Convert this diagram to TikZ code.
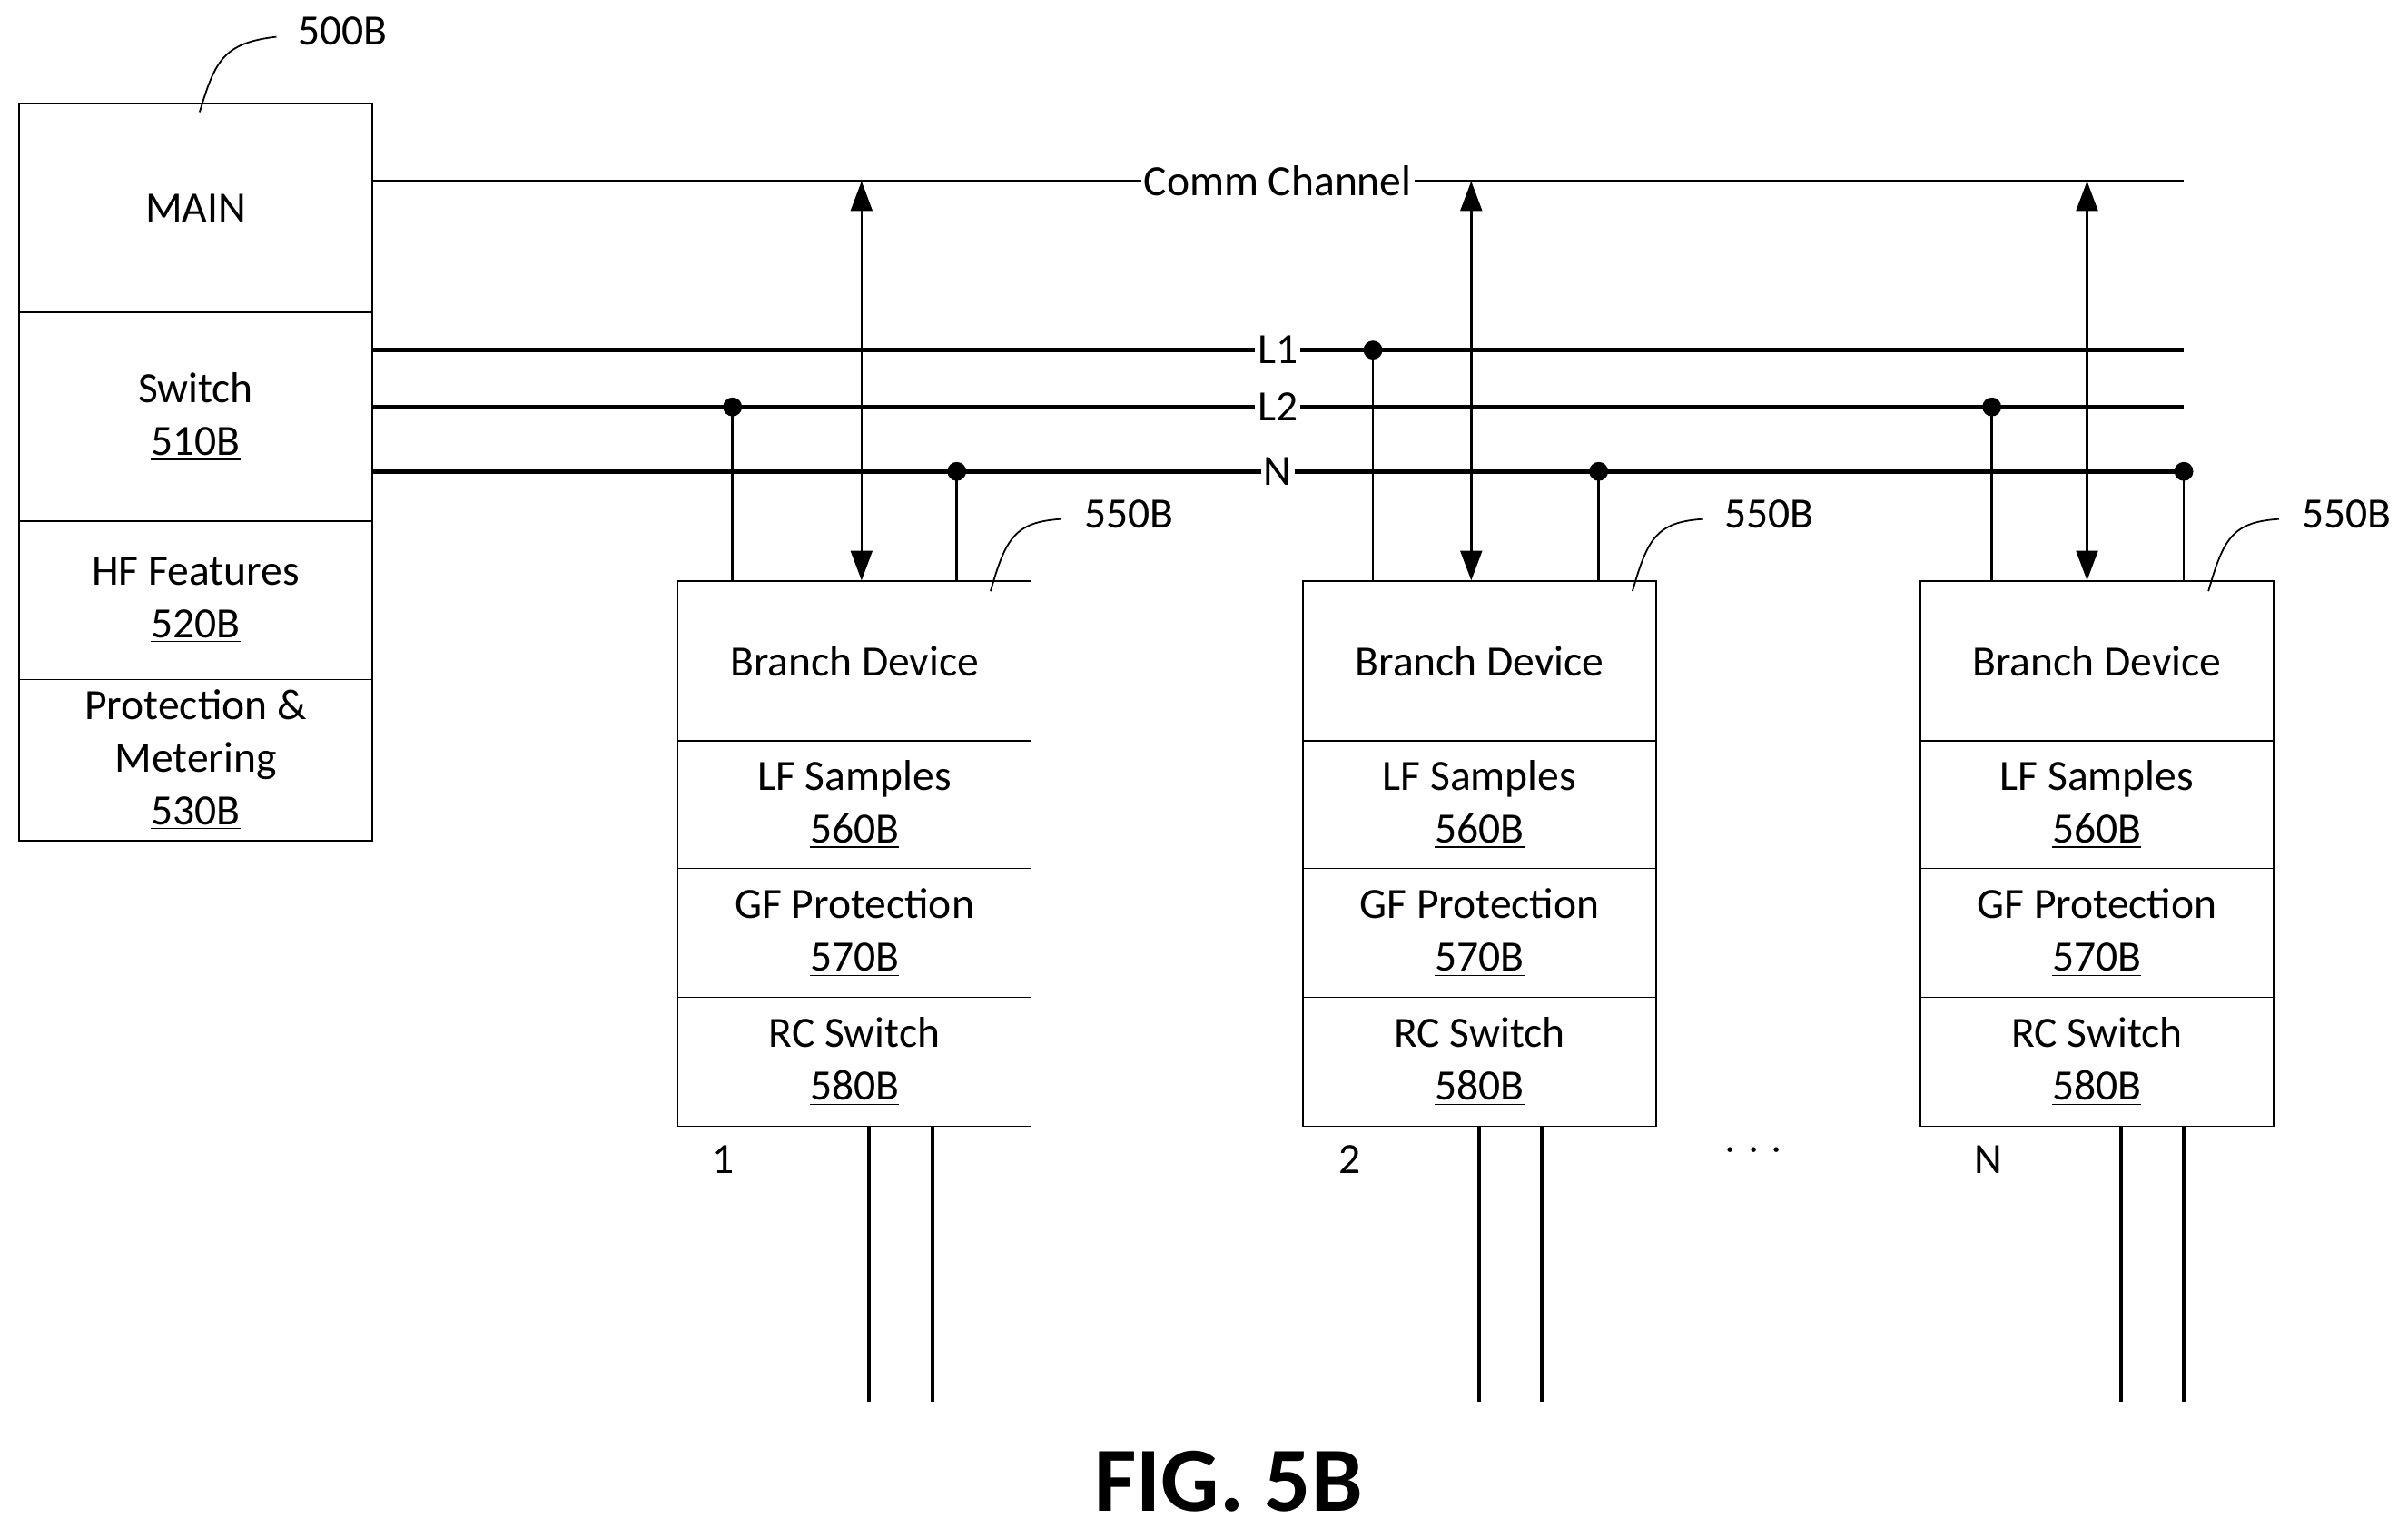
\documentclass[tikz,border=0pt]{standalone}
\usepackage{fontspec}
\setmainfont{Carlito}
\usetikzlibrary{arrows.meta, positioning}

\begin{document}
\begin{tikzpicture}[
    x=0.02cm, y=-0.02cm,
    font=\fontsize{16}{19.5}\selectfont,
    line width=0.9pt,
    cell/.style={draw, line width=0.5pt, minimum width=4.6cm, inner sep=0pt, align=center, anchor=north west},
    bus/.style={line width=1.8pt},
    tap/.style={circle, fill, inner sep=0pt, minimum size=7pt},
    lbl/.style={fill=white, inner sep=1pt}
]
\useasboundingbox (0,0) rectangle (1568,1001);

% main panel
\node[cell, minimum height=2.72cm] (main) at (12,67) {MAIN};
\node[cell, minimum height=2.72cm] (sw) at (12,203) {Switch\\\underline{510B}};
\node[cell, minimum height=2.06cm] (hf) at (12,339) {HF Features\\\underline{520B}};
\node[cell, minimum height=2.1cm] (pm) at (12,442) {Protection \&\\Metering\\\underline{530B}};
\node (ref500) at (223,20) {500B};
\draw[line width=0.6pt] (130,73) .. controls (140,40) and (145,28) .. (180,24);

% buses
\coordinate (cc) at (1422,118);
\coordinate (l1) at (1422,228);
\coordinate (l2) at (1422,265);
\coordinate (nn) at (1422,307);
\draw (main.east |- cc) -- (cc);
\draw[bus] (sw.east |- l1) -- (l1);
\draw[bus] (sw.east |- l2) -- (l2);
\draw[bus] (sw.east |- nn) -- (nn);
\node[lbl] at (832,118) {Comm Channel};
\node[lbl] at (832,228) {L1};
\node[lbl] at (832,265) {L2};
\node[lbl] at (832,307) {N};

% branch devices
\foreach \i/\x/\n/\nx/\rx/\cx/\ph/\a/\b/\c/\oa/\ob in {1/441/1/471/735/645/l2/477/561/623/566/607,
                                          2/848/2/879/1152/1063/l1/894/958/1041/963/1004,
                                          3/1250/N/1295/1528/1438/l2/1297/1359/1422/1381/1422} {
    \node[cell, minimum height=2.08cm] (bd\i) at (\x,378) {Branch Device};
    \node[cell, minimum height=1.66cm] (lf\i) at (\x,482) {LF Samples\\\underline{560B}};
    \node[cell, minimum height=1.68cm] (gf\i) at (\x,565) {GF Protection\\\underline{570B}};
    \node[cell, minimum height=1.68cm] (rc\i) at (\x,649) {RC Switch\\\underline{580B}};
    \node at (\nx,755) {\n};
    \node at (\rx,335) {550B};
    \draw[line width=0.6pt] (\cx,385) .. controls (\cx+10,350) and (\cx+16,340) .. (\cx+46,338);
    \draw (\a,378) -- (\a,0 |- \ph) node[tap] {};
    \draw (\c,378) -- (\c,0 |- nn) node[tap] {};
    \draw[{Triangle[length=11pt,width=8pt]}-{Triangle[length=11pt,width=8pt]}] (\b,0 |- cc) -- (\b,378);
    \draw[line width=1.3pt] (\oa,733) -- (\oa,913);
    \draw[line width=1.3pt] (\ob,733) -- (\ob,913);
}
\node at (1142,750) {$\cdot\cdot\cdot$};

\node[font=\fontsize{34}{38}\selectfont\bfseries] (fig) at (800,965) {FIG. 5B};
\end{tikzpicture}
\end{document}
